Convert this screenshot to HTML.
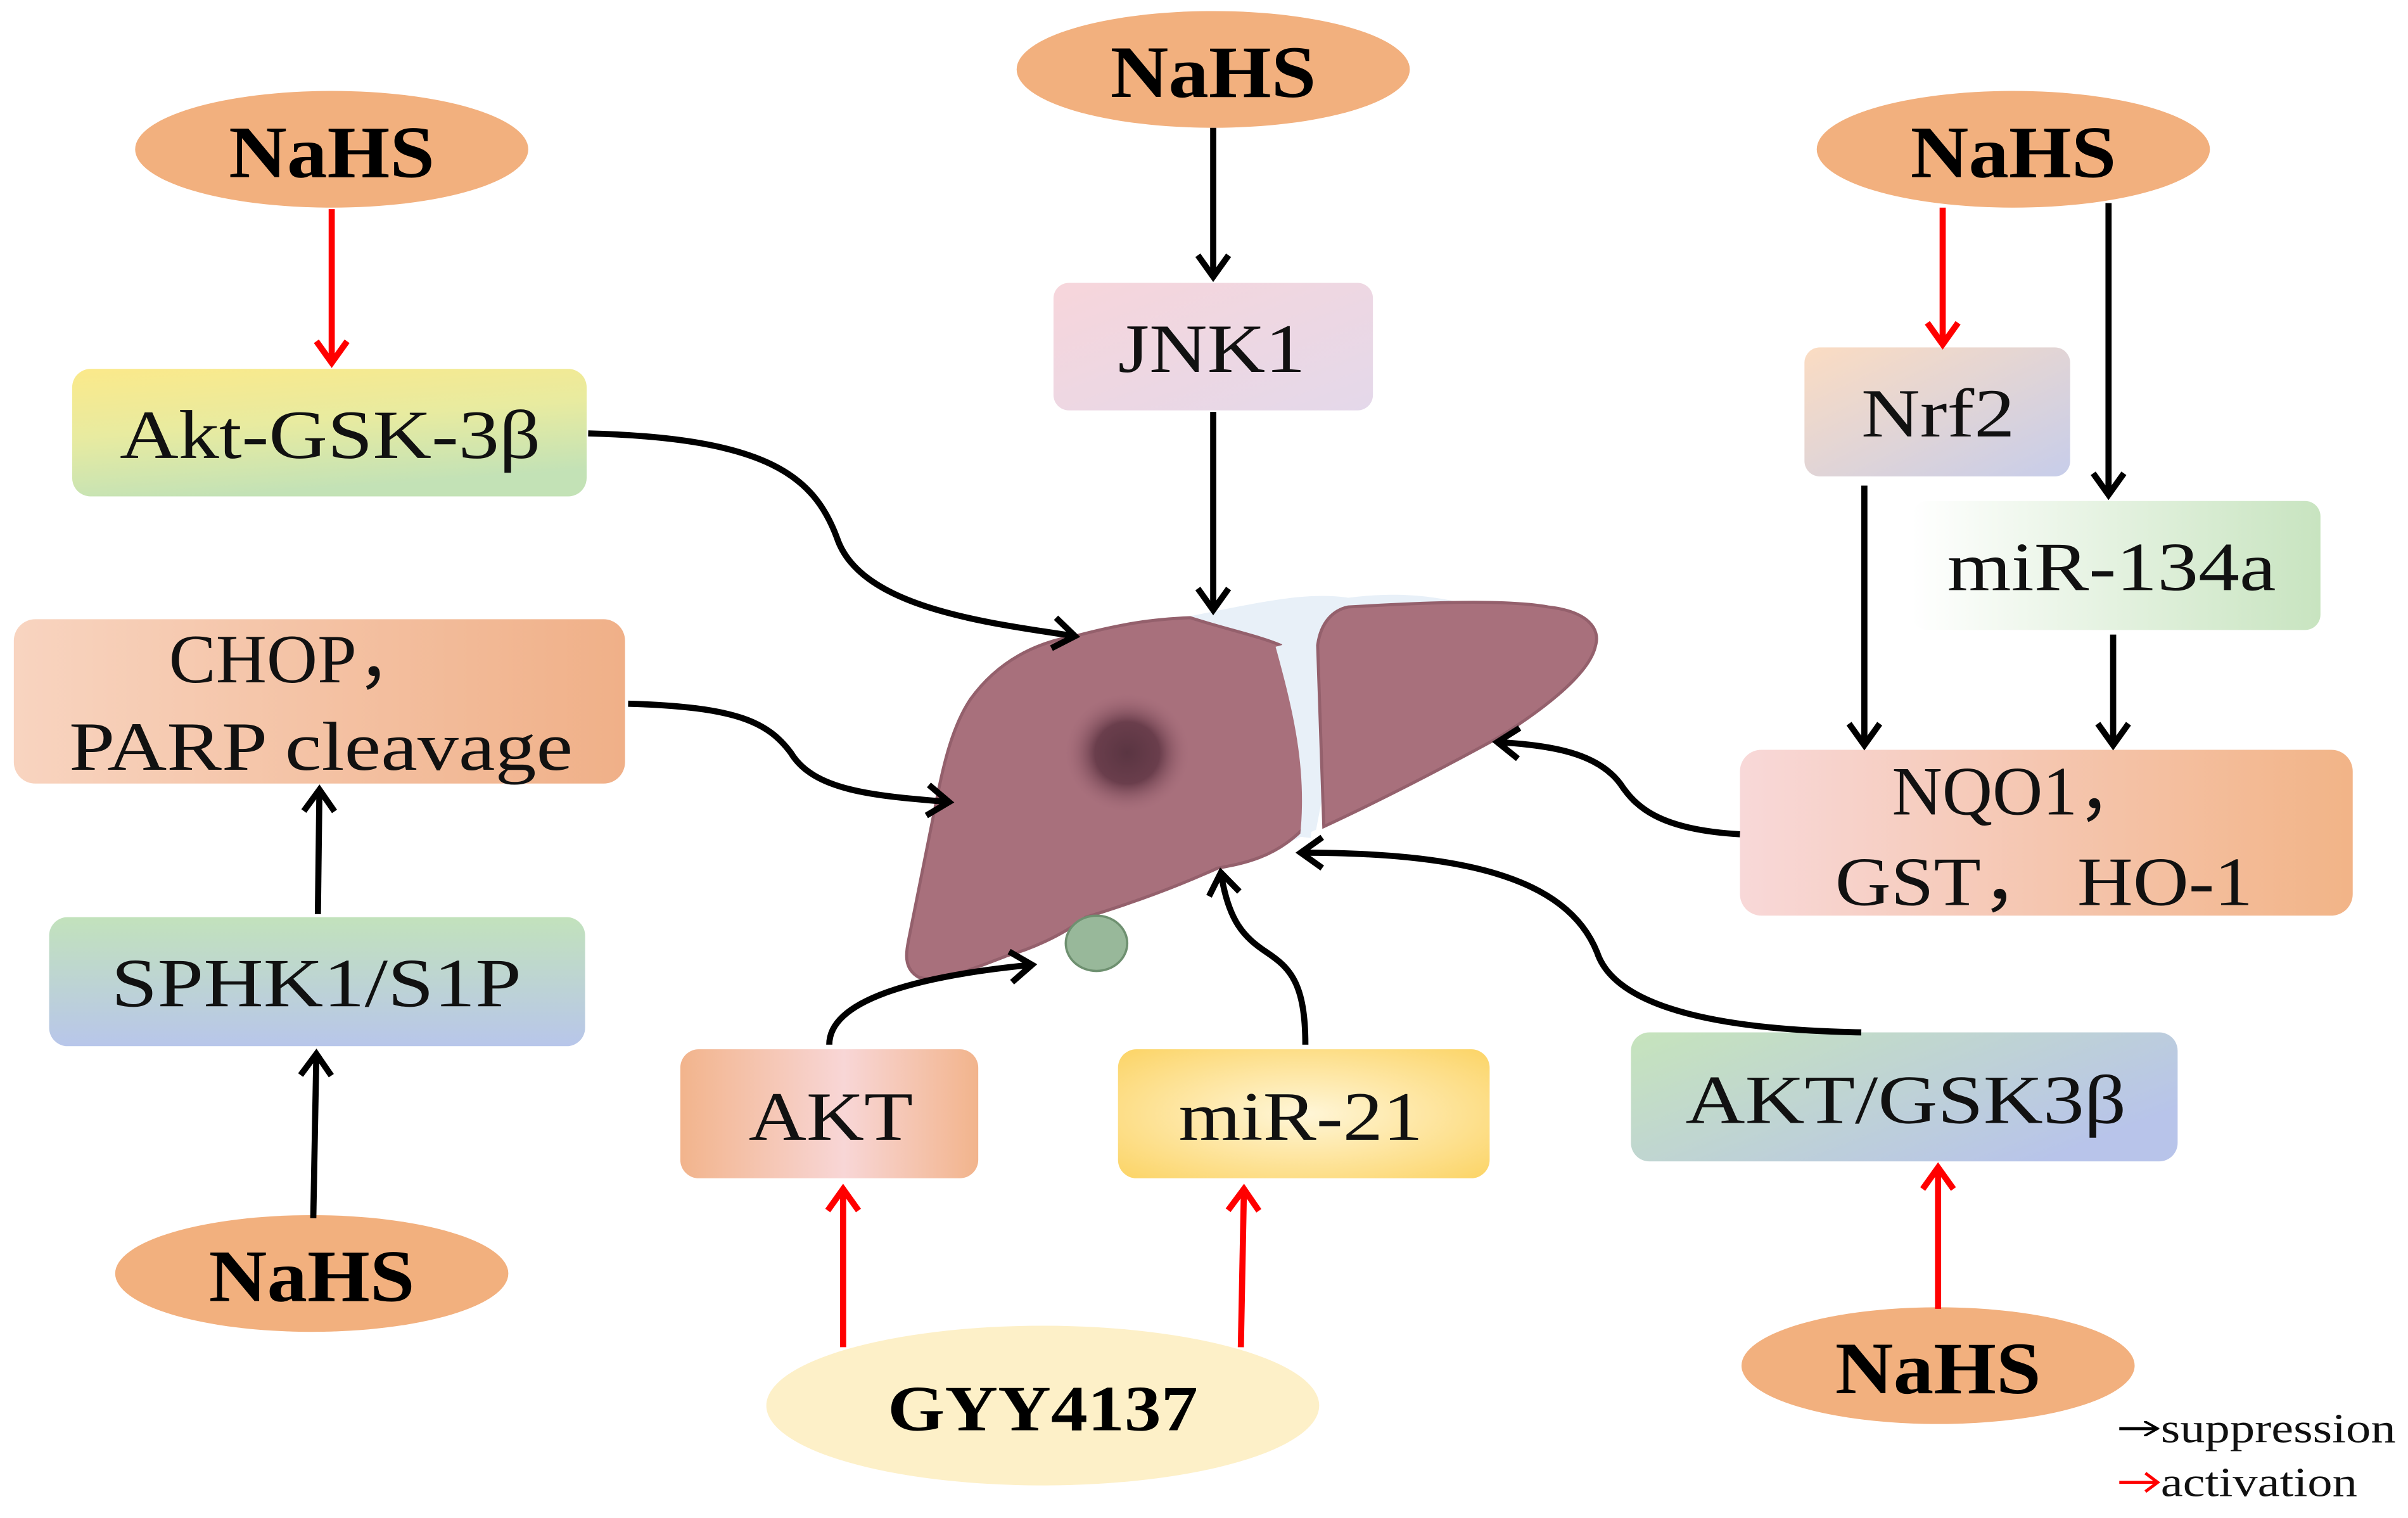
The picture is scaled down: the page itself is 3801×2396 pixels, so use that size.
<!DOCTYPE html>
<html><head><meta charset="utf-8"><style>html,body{margin:0;padding:0;background:#fff}svg{display:block}</style></head>
<body>
<svg width="3801" height="2396" viewBox="0 0 1568 988" xmlns="http://www.w3.org/2000/svg" font-family="Liberation Serif, serif">
<defs>
<linearGradient id="gAkt" x1="0" y1="0" x2="0.3" y2="1"><stop offset="0" stop-color="#fbe98a"/><stop offset="0.5" stop-color="#e8eba0"/><stop offset="1" stop-color="#c3e2b6"/></linearGradient>
<linearGradient id="gJnk" x1="0" y1="0" x2="1" y2="1"><stop offset="0" stop-color="#f7d6db"/><stop offset="1" stop-color="#e4d8ea"/></linearGradient>
<linearGradient id="gNrf" x1="0" y1="0" x2="1" y2="1"><stop offset="0" stop-color="#fbdcc2"/><stop offset="1" stop-color="#c7cdea"/></linearGradient>
<linearGradient id="gMir" x1="0" y1="0" x2="1" y2="0"><stop offset="0" stop-color="#ffffff"/><stop offset="1" stop-color="#c8e4c0"/></linearGradient>
<linearGradient id="gNqo" x1="0" y1="0" x2="1" y2="0"><stop offset="0" stop-color="#f8d8d8"/><stop offset="1" stop-color="#f2b487"/></linearGradient>
<linearGradient id="gChop" x1="0" y1="0" x2="1" y2="0"><stop offset="0" stop-color="#f8d4c0"/><stop offset="1" stop-color="#f0b088"/></linearGradient>
<linearGradient id="gSph" x1="0" y1="0" x2="0" y2="1"><stop offset="0" stop-color="#c2e2bc"/><stop offset="1" stop-color="#b8c6ea"/></linearGradient>
<linearGradient id="gAKT" x1="0" y1="0" x2="1" y2="0"><stop offset="0" stop-color="#f2b48c"/><stop offset="0.55" stop-color="#f8d6d6"/><stop offset="1" stop-color="#f2b48c"/></linearGradient>
<radialGradient id="gM21" cx="0.5" cy="0.5" r="0.7"><stop offset="0" stop-color="#fff6d8"/><stop offset="1" stop-color="#fcd466"/></radialGradient>
<linearGradient id="gAG" x1="0" y1="0" x2="1" y2="0.6"><stop offset="0" stop-color="#c6e4bc"/><stop offset="1" stop-color="#b8c4ea"/></linearGradient>
<radialGradient id="spot"><stop offset="0" stop-color="#5a3542"/><stop offset="0.5" stop-color="#6a3e4c"/><stop offset="1" stop-color="#aa707e" stop-opacity="0"/></radialGradient>
<marker id="ab" markerWidth="10" markerHeight="10" refX="8" refY="5" orient="auto" markerUnits="userSpaceOnUse" viewBox="0 0 10 10"><path d="M0,0 L9,5 L0,10" fill="none" stroke="#000" stroke-width="1.6"/></marker>
<marker id="ab2" markerWidth="24" markerHeight="24" refX="20" refY="12" orient="auto" markerUnits="userSpaceOnUse"><path d="M6,2 L20,12 L6,22" fill="none" stroke="#000" stroke-width="4"/></marker>
<marker id="ar2" markerWidth="24" markerHeight="24" refX="20" refY="12" orient="auto" markerUnits="userSpaceOnUse"><path d="M6,2 L20,12 L6,22" fill="none" stroke="#f00" stroke-width="4"/></marker>
</defs>

<!-- liver -->
<path d="M775,401 C820,392 850,385 878,389 C910,385 930,388 946,391 L880,420 L857,540 L840,548 Z" fill="#e8f0f8"/>
<path d="M878,395 C930,392 980,390 1008,395 C1035,398 1042,410 1039,420 C1035,440 1000,465 974,481 C930,505 890,525 862,538 L858,420 C860,405 868,397 878,395 Z" fill="#a8707c" stroke="#94606c" stroke-width="2"/>
<path d="M700,414 C730,406 750,403 775,402 C800,410 820,414 834,420 C850,470 852,510 848,540 C830,558 810,562 793,565 C760,580 730,590 707,597 C690,610 670,618 656,622 C630,632 610,640 598,636 C588,630 590,620 592,610 C598,580 605,545 611,515 C616,490 622,470 632,455 C650,430 675,418 700,414 Z" fill="#a8707c" stroke="#94606c" stroke-width="2"/>
<path d="M834,420 C845,460 855,500 850,545" fill="none" stroke="#e8f0f8" stroke-width="7"/>
<ellipse cx="734" cy="490" rx="42" ry="40" fill="url(#spot)"/>
<ellipse cx="714" cy="614" rx="20" ry="18" fill="#98b89a" stroke="#6e9070" stroke-width="1.5"/>

<!-- ellipses -->
<g fill="#f2b07e">
<ellipse cx="216" cy="97" rx="128" ry="38"/>
<ellipse cx="790" cy="45" rx="128" ry="38"/>
<ellipse cx="1311" cy="97" rx="128" ry="38"/>
<ellipse cx="203" cy="829" rx="128" ry="38"/>
<ellipse cx="1262" cy="889" rx="128" ry="38"/>
</g>
<ellipse cx="679" cy="915" rx="180" ry="52" fill="#fdf0c8"/>
<g font-weight="bold" font-size="48" text-anchor="middle" lengthAdjust="spacingAndGlyphs">
<text x="216" y="115" textLength="134" lengthAdjust="spacingAndGlyphs">NaHS</text>
<text x="790" y="63" textLength="134" lengthAdjust="spacingAndGlyphs">NaHS</text>
<text x="1311" y="115" textLength="134" lengthAdjust="spacingAndGlyphs">NaHS</text>
<text x="203" y="847" textLength="134" lengthAdjust="spacingAndGlyphs">NaHS</text>
<text x="1262" y="907" textLength="134" lengthAdjust="spacingAndGlyphs">NaHS</text>
<text x="679" y="931" font-size="42" textLength="202" lengthAdjust="spacingAndGlyphs">GYY4137</text>
</g>

<!-- boxes -->
<rect x="47" y="240" width="335" height="83" rx="12" fill="url(#gAkt)"/>
<rect x="686" y="184" width="208" height="83" rx="10" fill="url(#gJnk)"/>
<rect x="1175" y="226" width="173" height="84" rx="10" fill="url(#gNrf)"/>
<rect x="1245" y="326" width="266" height="84" rx="10" fill="url(#gMir)"/>
<rect x="1133" y="488" width="399" height="108" rx="14" fill="url(#gNqo)"/>
<rect x="9" y="403" width="398" height="107" rx="14" fill="url(#gChop)"/>
<rect x="32" y="597" width="349" height="84" rx="12" fill="url(#gSph)"/>
<rect x="443" y="683" width="194" height="84" rx="12" fill="url(#gAKT)"/>
<rect x="728" y="683" width="242" height="84" rx="12" fill="url(#gM21)"/>
<rect x="1062" y="672" width="356" height="84" rx="12" fill="url(#gAG)"/>
<g font-size="45" text-anchor="middle" fill="#111">
<text x="215" y="298" textLength="274" lengthAdjust="spacingAndGlyphs">Akt-GSK-3β</text>
<text x="789" y="242" textLength="122" lengthAdjust="spacingAndGlyphs">JNK1</text>
<text x="1262" y="284" textLength="100" lengthAdjust="spacingAndGlyphs">Nrf2</text>
<text x="1375" y="384" textLength="214" lengthAdjust="spacingAndGlyphs">miR-134a</text>
<text x="1315" y="530" textLength="166" lengthAdjust="spacingAndGlyphs">NQO1，</text>
<text x="1331" y="589" textLength="272" lengthAdjust="spacingAndGlyphs">GST， HO-1</text>
<text x="194" y="444" textLength="168" lengthAdjust="spacingAndGlyphs">CHOP，</text>
<text x="209" y="501" textLength="328" lengthAdjust="spacingAndGlyphs">PARP cleavage</text>
<text x="206" y="655" textLength="267" lengthAdjust="spacingAndGlyphs">SPHK1/S1P</text>
<text x="541" y="742" textLength="107" lengthAdjust="spacingAndGlyphs">AKT</text>
<text x="847" y="742" textLength="159" lengthAdjust="spacingAndGlyphs">miR-21</text>
<text x="1241" y="731" textLength="287" lengthAdjust="spacingAndGlyphs">AKT/GSK3β</text>
</g>

<!-- arrows -->
<g fill="none" stroke-width="4">
<g stroke="#f00" marker-end="url(#ar2)">
<line x1="216" y1="136" x2="216" y2="236"/>
<line x1="1265" y1="135" x2="1265" y2="224"/>
<line x1="549" y1="877" x2="549" y2="774"/>
<line x1="808" y1="877" x2="810" y2="774"/>
<line x1="1262" y1="852" x2="1262" y2="760"/>
</g>
<g stroke="#000" marker-end="url(#ab2)">
<line x1="790" y1="83" x2="790" y2="180"/>
<line x1="790" y1="268" x2="790" y2="397"/>
<line x1="1373" y1="132" x2="1373" y2="322"/>
<line x1="1214" y1="316" x2="1214" y2="485"/>
<line x1="1376" y1="413" x2="1376" y2="485"/>
<line x1="204" y1="793" x2="206" y2="686"/>
<line x1="207" y1="595" x2="208" y2="514"/>
<path d="M383,282 C500,285 530,310 545,350 C560,395 640,405 700,414"/>
<path d="M409,458 C480,460 500,470 515,490 C530,515 570,518 618,522"/>
<path d="M1133,543 C1080,540 1065,525 1055,510 C1040,490 1010,485 975,483"/>
<path d="M540,680 C540,650 600,635 672,628"/>
<path d="M850,680 C850,640 840,630 825,620 C810,610 800,600 795,568"/>
<path d="M1212,672 C1100,670 1050,650 1040,620 C1020,570 950,555 847,555"/>
</g>
</g>

<!-- legend -->
<g font-size="27" fill="#111">
<line x1="1380" y1="930" x2="1404" y2="930" stroke="#000" stroke-width="2" marker-end="url(#ab)"/>
<text x="1407" y="939" textLength="153" lengthAdjust="spacingAndGlyphs">suppression</text>
<line x1="1380" y1="965" x2="1404" y2="965" stroke="#f00" stroke-width="2"/>
<path d="M1397,959 L1405,965 L1397,971" fill="none" stroke="#f00" stroke-width="2"/>
<text x="1407" y="974" textLength="128" lengthAdjust="spacingAndGlyphs">activation</text>
</g>
</svg>
</body></html>
